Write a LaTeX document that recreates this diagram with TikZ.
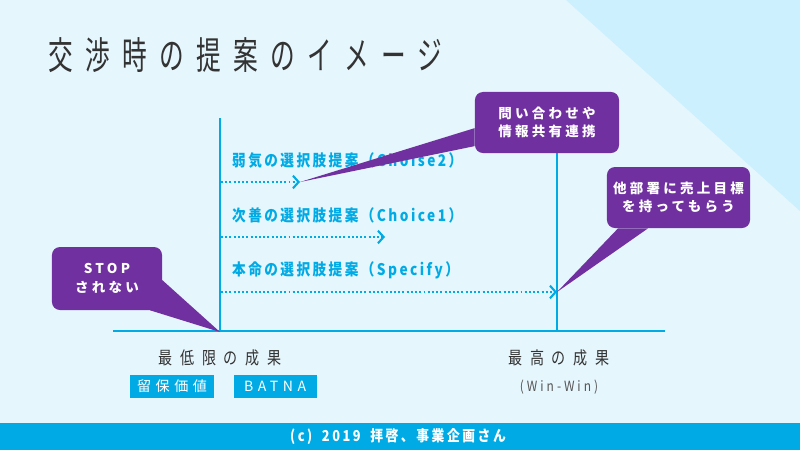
\documentclass[tikz,border=0pt]{standalone}
\usepackage{fontspec}
\setmainfont{Noto Sans CJK JP}
\usepackage{tikz}
\usetikzlibrary{arrows.meta, positioning}
\usepackage{xcolor}
\definecolor{pagebg}{RGB}{230,246,253}
\definecolor{cornerblue}{RGB}{204,240,254}
\definecolor{lineblue}{RGB}{0,170,228}
\definecolor{talkpurple}{RGB}{112,48,160}
\definecolor{inkgray}{RGB}{51,51,51}
\definecolor{softgray}{RGB}{85,85,85}
\newcommand{\track}[2]{\fontsize{#1}{#1}\selectfont\addfontfeatures{LetterSpace=#2}}

\begin{document}
\begin{tikzpicture}[
    x=0.025cm, y=-0.025cm,
    >={Straight Barb[length=4pt, width=9pt, line width=1.5pt]},
    axis/.style={draw=lineblue, line width=2pt},
    offer/.style={->, lineblue, line width=1.6pt, dash pattern=on 1.4pt off 1.6pt},
    offerlabel/.style={anchor=west, text=lineblue, inner sep=0pt, xscale=0.85,
                       font=\bfseries\track{11.4}{18}},
    callout/.style={rectangle, rounded corners=0.2cm, fill=talkpurple, text=white,
                    align=center, inner sep=0pt, font=\bfseries\track{9.6}{24}},
    outcome/.style={text=inkgray, inner sep=0pt, xscale=0.8, font=\track{12.5}{54}},
    tagbox/.style={fill=lineblue, text=white, inner sep=0pt, minimum height=0.575cm,
                   font=\track{10}{32}},
]
    % background and corner
    \fill[pagebg] (0,0) rectangle (800,450);
    \useasboundingbox (0,0) rectangle (800,450);
    \fill[cornerblue] (566,0) -- (800,0) -- (800,211) -- cycle;

    % title
    \node[anchor=west, text=inkgray, inner sep=0pt, xscale=0.65,
          font=\track{27}{50}] (title) at (48,55) {交渉時の提案のイメージ};

    % axes
    \coordinate (ytop) at (220,118);
    \coordinate (o) at (220,332);
    \coordinate (xl) at (113,331);
    \coordinate (xr) at (665,331);
    \coordinate (besttop) at (557,150);
    \coordinate (best) at (557,331);
    \draw[axis] (xl) -- (xr);
    \draw[axis] (ytop) -- (o);
    \draw[axis] (besttop) -- (best);

    % proposals
    \coordinate (s1) at (221,182);  \coordinate (e1) at (300,182);
    \coordinate (s2) at (221,237);  \coordinate (e2) at (385,237);
    \coordinate (s3) at (221,292);  \coordinate (e3) at (557,292);
    \node[offerlabel] (weak) at (232,160) {弱気の選択肢提案（Choise2）};
    \node[offerlabel] (second) at (232,215) {次善の選択肢提案（Choice1）};
    \node[offerlabel] (main) at (232,270) {本命の選択肢提案（Specify）};
    \draw[offer] (s1) -- (e1);
    \draw[offer] (s2) -- (e2);
    \draw[offer] (s3) -- (e3);

    % callouts
    \node[callout, minimum width=3.6cm, minimum height=1.525cm] (ask) at (547,122.5)
        {問い合わせや\\[3.5pt]情報共有連携};
    \fill[talkpurple] ([yshift=-0.14cm]ask.west) -- ([yshift=-0.59cm]ask.west) -- (e1) -- cycle;

    \node[callout, minimum width=3.575cm, minimum height=1.525cm] (target) at (678.5,197.5)
        {他部署に売上目標\\[3.5pt]を持ってもらう};
    \fill[talkpurple] ([xshift=-1.51cm]target.south) -- ([xshift=-0.76cm]target.south) -- (e3) -- cycle;

    \node[callout, minimum width=2.75cm, minimum height=1.575cm] (stop) at (107,278.5)
        {STOP\\[3.5pt]されない};
    \fill[talkpurple] ([yshift=-0.04cm]stop.east) -- ([xshift=1.075cm]stop.south) -- (o) -- cycle;

    % outcomes
    \node[outcome] (low) at (220,358) {最低限の成果};
    \node[outcome] (high) at (559,358) {最高の成果};
    \node[below=0.72cm of high.center, anchor=center, text=softgray, inner sep=0pt,
          xscale=0.85, font=\track{10}{25}] (winwin) {(Win-Win)};
    \node[tagbox, minimum width=2.1cm] (reserve) at (172,386.5) {留保価値};
    \node[tagbox, minimum width=2.075cm, right=0.475cm of reserve] (batna) {BATNA};

    % footer
    \fill[lineblue] (0,423) rectangle (800,450);
    \node[text=white, inner sep=0pt, xscale=0.85, font=\bfseries\track{10.7}{20}]
        (credit) at (398,437) {(c)\hspace{8pt}2019\hspace{8pt}拝啓、事業企画さん};
\end{tikzpicture}
\end{document}
